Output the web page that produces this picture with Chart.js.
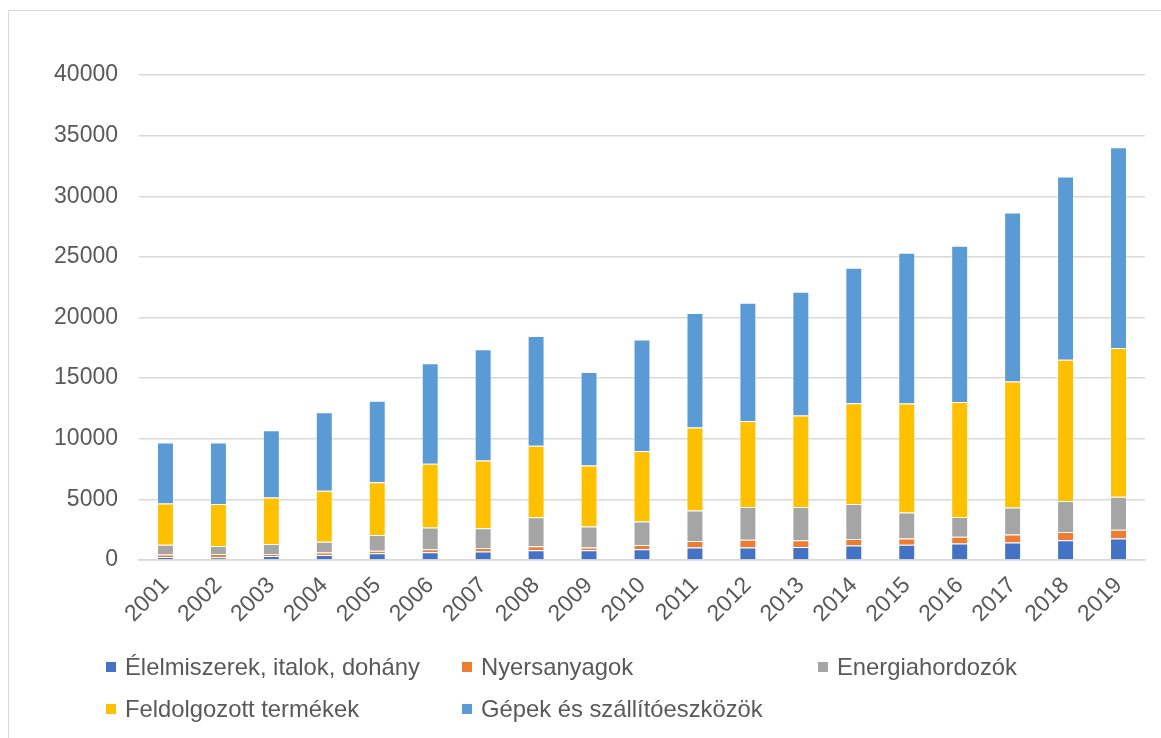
<!DOCTYPE html>
<html>
<head>
<meta charset="utf-8">
<script src="https://cdn.jsdelivr.net/npm/chart.js@4"></script>
<style>
  body { margin: 0; background: #fff; font-family: "Liberation Sans", Arial, sans-serif; }
  #wrap { position: relative; width: 1161px; height: 738px; overflow: hidden; }
  #frame { position: absolute; left: 8px; top: 10px; width: 1200px; height: 800px;
           border-left: 1px solid #d9d9d9; border-top: 1px solid #d9d9d9; }
  canvas { position: absolute; left: 0; top: 0; }
  #legend { position: absolute; left: 106px; top: 646px; display: grid;
            grid-template-columns: repeat(3, 356px); grid-auto-rows: 42px; }
  .item { display: flex; align-items: center; font-size: 23.8px; color: #595959; white-space: nowrap; }
  .box { width: 10px; height: 10px; margin-right: 9px; }
</style>
</head>
<body>
<div id="wrap">
  <div id="frame"></div>
  <canvas id="chart" width="1161" height="650"></canvas>
  <div id="legend"></div>
</div>
<script>
const years = ['2001', '2002', '2003', '2004', '2005', '2006', '2007', '2008', '2009', '2010',
  '2011', '2012', '2013', '2014', '2015', '2016', '2017', '2018', '2019']

const elelmiszer = [250, 230, 320, 420, 550, 640, 700, 800, 800, 880, 1040, 1040, 1070, 1200, 1260, 1370, 1450, 1620, 1780]
const nyersanyag = [200, 270, 180, 200, 220, 250, 290, 330, 240, 360, 530, 630, 550, 530, 520, 550, 660, 690, 720]
const energia = [800, 650, 820, 880, 1290, 1800, 1620, 2390, 1730, 1940, 2520, 2700, 2750, 2880, 2140, 1620, 2220, 2550, 2720]
const feldolgozott = [3420, 3470, 3840, 4220, 4350, 5250, 5590, 5900, 5020, 5820, 6840, 7100, 7540, 8310, 8980, 9500, 10400, 11660, 12270]
const gepek = [5030, 5080, 5550, 6460, 6730, 8280, 9180, 9060, 7720, 9180, 9450, 9750, 10220, 11190, 12450, 12880, 13930, 15110, 16560]

const yTicks = [0, 5000, 10000, 15000, 20000, 25000, 30000, 35000, 40000]

const series = [
  { label: 'Élelmiszerek, italok, dohány', data: elelmiszer, color: '#4472c4' },
  { label: 'Nyersanyagok', data: nyersanyag, color: '#ed7d31' },
  { label: 'Energiahordozók', data: energia, color: '#a5a5a5' },
  { label: 'Feldolgozott termékek', data: feldolgozott, color: '#ffc000' },
  { label: 'Gépek és szállítóeszközök', data: gepek, color: '#5b9bd5' }
]

const font = { family: '"Liberation Sans", Arial, sans-serif', size: 23 }

const chart = new Chart(document.getElementById('chart'), {
  type: 'bar',
  data: {
    labels: years,
    datasets: series.map((s) => ({
      label: s.label,
      data: s.data,
      backgroundColor: s.color,
      borderColor: 'rgba(255, 255, 255, 0.35)',
      borderWidth: 1,
      categoryPercentage: 1,
      barPercentage: 0.32
    }))
  },
  options: {
    responsive: false,
    animation: false,
    layout: { padding: { top: 75, right: 16, left: 0, bottom: 0 } },
    plugins: {
      legend: { display: false },
      tooltip: { enabled: false }
    },
    scales: {
      x: {
        stacked: true,
        grid: { display: false },
        border: { color: '#d9d9d9', width: 1.5 },
        ticks: { color: '#595959', font, maxRotation: 45, minRotation: 45, padding: 4 },
        afterFit: (scale) => { scale.height = 90 }
      },
      y: {
        stacked: true,
        min: 0,
        max: 40000,
        afterBuildTicks: (scale) => { scale.ticks = yTicks.map((v) => ({ value: v })) },
        grid: { color: '#d9d9d9', lineWidth: 1.5, drawTicks: false },
        border: { display: false },
        ticks: { color: '#595959', font, padding: 21, callback: (v) => String(v) },
        afterFit: (scale) => { scale.width = 139 }
      }
    }
  }
})

// legend laid out in fixed columns like the original
const legend = document.getElementById('legend')
chart.data.datasets.forEach((ds) => {
  const item = document.createElement('div')
  item.className = 'item'
  item.innerHTML = `<span class="box" style="background:${ds.backgroundColor}"></span>${ds.label}`
  legend.appendChild(item)
})
</script>
</body>
</html>
